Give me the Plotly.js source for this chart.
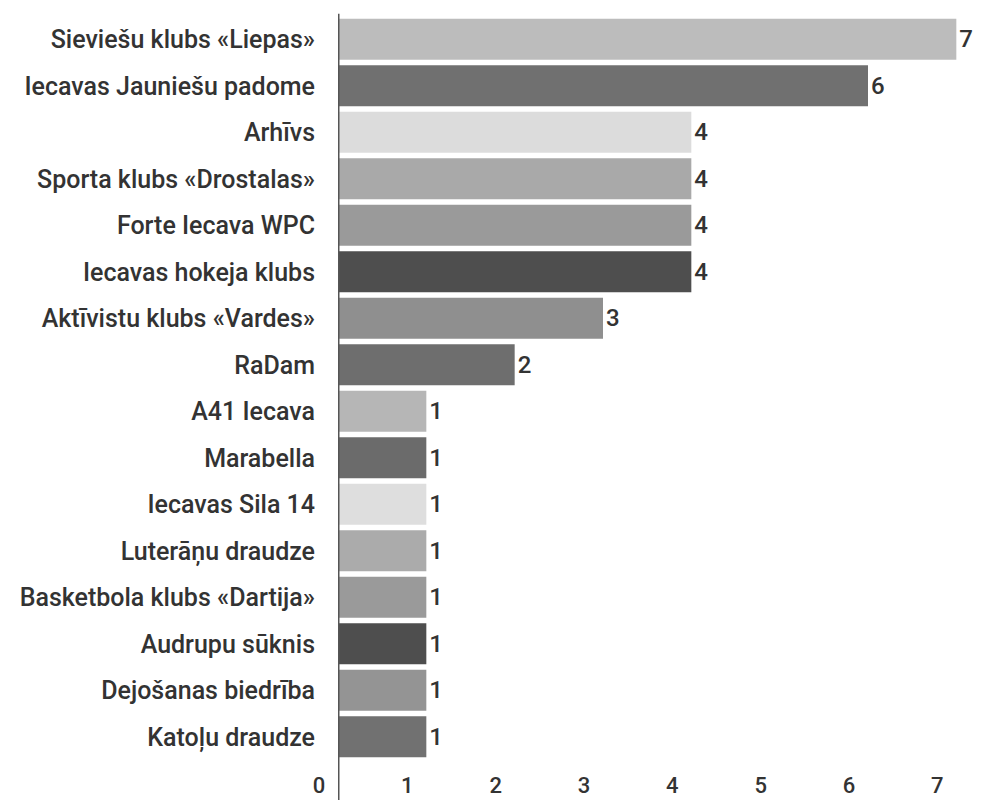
<!DOCTYPE html>
<html>
<head>
<meta charset="utf-8">
<script src="https://cdn.plot.ly/plotly-3.0.1.min.js"></script>
<style>html,body{margin:0;padding:0;background:#fff;}#chart{width:990px;height:800px;}</style>
</head>
<body>
<div id="chart"></div>
<script>
const categories = [
  "Sieviešu klubs «Liepas»",
  "Iecavas Jauniešu padome",
  "Arhīvs",
  "Sporta klubs «Drostalas»",
  "Forte Iecava WPC",
  "Iecavas hokeja klubs",
  "Aktīvistu klubs «Vardes»",
  "RaDam",
  "A41 Iecava",
  "Marabella",
  "Iecavas Sila 14",
  "Luterāņu draudze",
  "Basketbola klubs «Dartija»",
  "Audrupu sūknis",
  "Dejošanas biedrība",
  "Katoļu draudze"
];
const values = [7, 6, 4, 4, 4, 4, 3, 2, 1, 1, 1, 1, 1, 1, 1, 1];
const barColors = ["#bcbcbc", "#707070", "#dcdcdc", "#a9a9a9", "#9a9a9a", "#4e4e4e", "#8f8f8f", "#6e6e6e",
                   "#b6b6b6", "#6b6b6b", "#dedede", "#ababab", "#9a9a9a", "#4e4e4e", "#949494", "#717171"];
const xTicks = [0, 1, 2, 3, 4, 5, 6, 7];

const font = {family: "Roboto, 'Noto Sans', sans-serif", size: 24, color: "#333", weight: 500};
const yFont = {family: "Roboto, 'Noto Sans', sans-serif", size: 25, color: "#333", weight: 500};
const xFont = {family: "Roboto, 'Noto Sans', sans-serif", size: 22, color: "#333", weight: 500};

const trace = {
  type: "bar",
  orientation: "h",
  y: categories,
  x: values,
  marker: {color: barColors, line: {width: 0}},
  text: values.map(String),
  textposition: "outside",
  cliponaxis: false,
  textfont: font,
  hoverinfo: "none"
};

const layout = {
  width: 990,
  height: 800,
  margin: {l: 338, r: 16, t: 16, b: 40, pad: 0},
  paper_bgcolor: "#fff",
  plot_bgcolor: "#fff",
  showlegend: false,
  bargap: 0.12,
  font: font,
  xaxis: {
    range: [0, 7.2],
    tickvals: xTicks,
    ticktext: xTicks.map(String),
    showgrid: false,
    zeroline: false,
    showline: false,
    ticks: "outside",
    ticklen: 6,
    tickcolor: "rgba(0,0,0,0)",
    ticklabelshift: -19,
    tickfont: xFont,
    fixedrange: true
  },
  yaxis: {
    type: "category",
    autorange: "reversed",
    showgrid: false,
    zeroline: false,
    showline: false,
    ticks: "outside",
    ticklen: 17,
    tickcolor: "rgba(0,0,0,0)",
    tickfont: yFont,
    fixedrange: true
  },
  shapes: [{
    type: "line",
    xref: "x", yref: "paper",
    x0: 0, x1: 0, y0: -0.06, y1: 1.003,
    line: {color: "#555", width: 3}
  }]
};

Plotly.newPlot("chart", [trace], layout, {displayModeBar: false, staticPlot: true});
</script>
</body>
</html>
